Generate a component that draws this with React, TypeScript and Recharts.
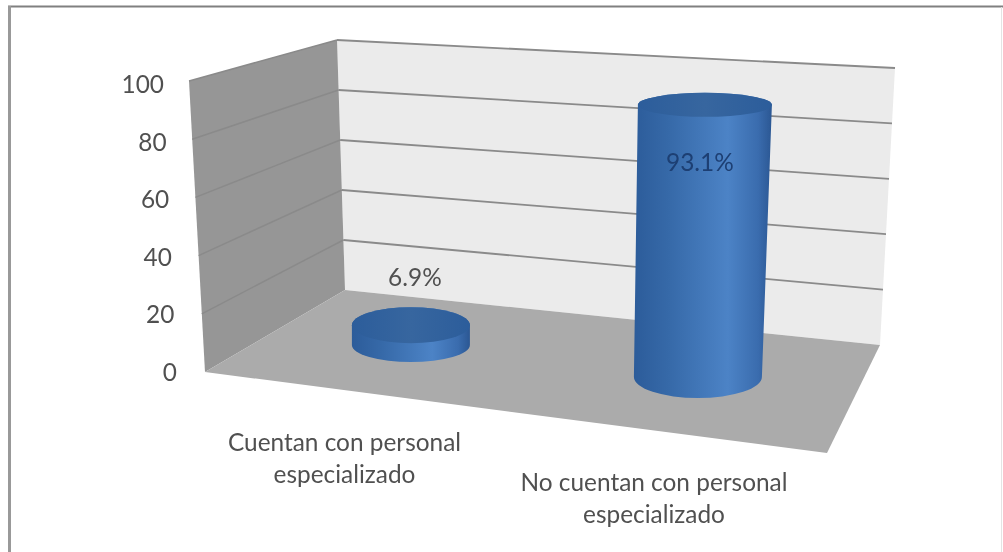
import { Bar, BarChart, Customized, LabelList, XAxis, YAxis } from "recharts";

const categories = ["Cuentan con personal\nespecializado", "No cuentan con personal\nespecializado"];
const porcentajes = [6.9, 93.1];
const yTicks = [0, 20, 40, 60, 80, 100];

const chartData = categories.map((name, i) => ({ name, value: porcentajes[i] }));

const FONT = "Lato, sans-serif";
const TEXT_SIZE = 24.4;
const TEXT_COLOR = "#505050";

// corners of the fake 3d box
const wallTopFront = [189, 81];
const wallBottomFront = [205, 372];
const backTopLeft = [337, 40];
const backBottomLeft = [345, 290];
const backTopRight = [895, 68];
const backBottomRight = [880, 345];
const floorFrontRight = [827, 453];

// per-cylinder perspective tweaks
const cylinders = [
  { topShift: -27, baseShift: -27, topDx: 0, baseDx: 0, topRx: 59, baseRx: 59, topRy: 18, baseRy: 17 },
  { topShift: 1, baseShift: 5, topDx: 2, baseDx: -5, topRx: 67, baseRx: 64, topRy: 12, baseRy: 21 },
];
const xLabelDx = [-66.5, -49];
const xLabelY = [451, 491];
const dataLabels = [
  { dx: 4, y: 286, fill: TEXT_COLOR },
  { dx: -3, y: 171, fill: "#1d3f73" },
];

const pts = (list: number[][]) => list.map((p) => p.join(",")).join(" ");
const mix = (a: number[], b: number[], t: number) => [a[0] + (b[0] - a[0]) * t, a[1] + (b[1] - a[1]) * t];

function Walls() {
  return (
    <g>
      <defs>
        <linearGradient id="cylSide" x1="0" y1="0" x2="1" y2="0">
          <stop offset="0%" stopColor="#2c5c9a" />
          <stop offset="25%" stopColor="#3669a8" />
          <stop offset="68%" stopColor="#4c83c6" />
          <stop offset="90%" stopColor="#3a6cae" />
          <stop offset="100%" stopColor="#2b5793" />
        </linearGradient>
        <linearGradient id="cylTop" x1="0" y1="0" x2="1" y2="0">
          <stop offset="0%" stopColor="#2c5d9b" />
          <stop offset="50%" stopColor="#37669f" />
          <stop offset="100%" stopColor="#2c5d9b" />
        </linearGradient>
      </defs>
      <polygon points={pts([backTopLeft, backTopRight, backBottomRight, backBottomLeft])} fill="#ebebeb" />
      <polygon points={pts([wallTopFront, backTopLeft, backBottomLeft, wallBottomFront])} fill="#969696" />
      <polygon points={pts([wallBottomFront, backBottomLeft, backBottomRight, floorFrontRight])} fill="#ababab" />
      {yTicks.map((t) => {
        const f = t / 100;
        const front = mix(wallBottomFront, wallTopFront, f);
        const left = mix(backBottomLeft, backTopLeft, f);
        const right = mix(backBottomRight, backTopRight, f);
        return (
          <g key={t}>
            {t > 0 && <line x1={front[0]} y1={front[1]} x2={left[0]} y2={left[1]} stroke="#8a8a8a" strokeWidth={1.5} />}
            {t > 0 && <line x1={left[0]} y1={left[1]} x2={right[0]} y2={right[1]} stroke="#8a8a8a" strokeWidth={1.8} />}
          </g>
        );
      })}
      {/* frame of the picture: only top and left really show */}
      <line x1={8} y1={6.5} x2={1003} y2={6.5} stroke="#808080" strokeWidth={2} />
      <line x1={9.5} y1={6} x2={9.5} y2={552} stroke="#999999" strokeWidth={3} />
      <line x1={1001.5} y1={7} x2={1001.5} y2={552} stroke="#e4e4e4" strokeWidth={1} />
    </g>
  );
}

function Cylinder(props: any) {
  const { x, y, width, height, index } = props;
  const c = cylinders[index];
  const cx = x + width / 2;
  const tx = cx + c.topDx;
  const bx = cx + c.baseDx;
  const ty = y + c.topShift;
  const by = y + height + c.baseShift;
  const side = `M${tx - c.topRx},${ty} L${bx - c.baseRx},${by} A${c.baseRx},${c.baseRy} 0 0 0 ${bx + c.baseRx},${by} L${tx + c.topRx},${ty} A${c.topRx},${c.topRy} 0 0 0 ${tx - c.topRx},${ty} Z`;
  return (
    <g>
      <path d={side} fill="url(#cylSide)" />
      <ellipse cx={tx} cy={ty} rx={c.topRx} ry={c.topRy} fill="url(#cylTop)" />
    </g>
  );
}

function YTick({ y, payload }: any) {
  const slant = ((100 - payload.value) / 100) * 13;
  return (
    <text x={164 + slant} y={y + 9} textAnchor="end" fontFamily={FONT} fontSize={TEXT_SIZE} fill={TEXT_COLOR}>
      {payload.value}
    </text>
  );
}

function XTick({ x, index, payload }: any) {
  const lines = String(payload.value).split("\n");
  return (
    <text textAnchor="middle" fontFamily={FONT} fontSize={TEXT_SIZE} fill={TEXT_COLOR}>
      {lines.map((line, i) => (
        <tspan key={i} x={x + xLabelDx[index]} y={xLabelY[index] + i * 32}>
          {line}
        </tspan>
      ))}
    </text>
  );
}

function ValueLabel({ x, width, value, index }: any) {
  const s = dataLabels[index];
  return (
    <text x={x + width / 2 + s.dx} y={s.y} textAnchor="middle" fontFamily={FONT} fontSize={TEXT_SIZE} fill={s.fill}>
      {value}%
    </text>
  );
}

export default function App() {
  return (
    <div style={{ position: "absolute", left: 0, top: 0, width: 1003, height: 552, filter: "blur(0.5px)" }}>
      <BarChart
        width={1003}
        height={552}
        data={chartData}
        margin={{ top: 84, right: 154, bottom: 0, left: 0 }}
        barCategoryGap="20%"
      >
        <Customized component={Walls} />
        <XAxis dataKey="name" axisLine={false} tickLine={false} height={180} interval={0} tick={XTick} />
        <YAxis
          domain={[0, 100]}
          ticks={yTicks}
          interval={0}
          width={265}
          axisLine={false}
          tickLine={false}
          tick={YTick}
        />
        <Bar dataKey="value" shape={Cylinder} isAnimationActive={false}>
          <LabelList dataKey="value" content={ValueLabel} />
        </Bar>
      </BarChart>
    </div>
  );
}
